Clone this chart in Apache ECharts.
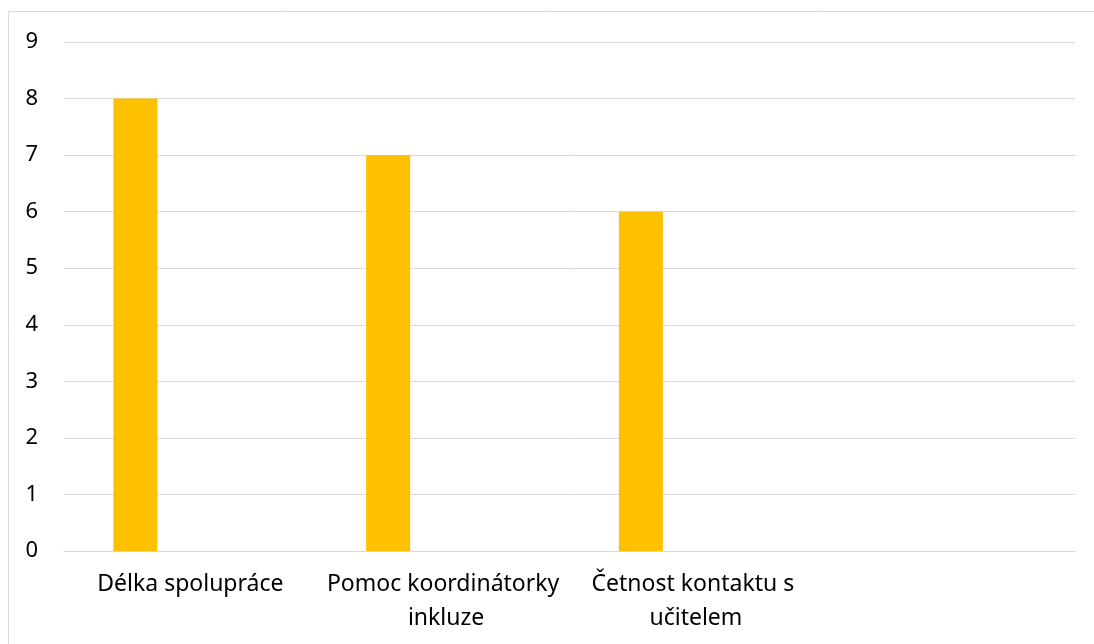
<!DOCTYPE html>
<html>
<head>
<meta charset="utf-8">
<script src="https://cdn.jsdelivr.net/npm/echarts@6/dist/echarts.min.js"></script>
<style>
  html, body { margin: 0; padding: 0; background: #fff; }
  #chart { width: 1094px; height: 644px; }
</style>
</head>
<body>
<div id="chart"></div>
<script>
// Categories along the x axis (the last slot is left empty)
const categories = ['Délka spolupráce', 'Pomoc koordinátorky inkluze', 'Četnost kontaktu s učitelem', ''];
// Counts per category
const counts = [8, 7, 6, null];
// Companion series with no values, keeps the bar offset within each slot
const companion = [null, null, null, null];
// Value axis ticks
const yTicks = [0, 1, 2, 3, 4, 5, 6, 7, 8, 9];

const chart = echarts.init(document.getElementById('chart'));
const font = 'Noto Sans';
chart.setOption({
  animation: false,
  backgroundColor: '#fff',
  graphic: [{
    type: 'rect',
    shape: { x: 8.5, y: 11.5, width: 1200, height: 800 },
    style: { fill: 'none', stroke: '#d9d9d9', lineWidth: 1 },
    silent: true
  }],
  grid: { left: 64, right: 19, top: 42, bottom: 93, containLabel: false },
  xAxis: {
    type: 'category',
    data: categories,
    axisLine: { show: true, lineStyle: { color: '#d9d9d9', width: 1 } },
    axisTick: { show: false },
    axisLabel: {
      interval: 0,
      margin: 16,
      color: '#000',
      fontFamily: font,
      fontSize: 23,
      lineHeight: 34,
      width: 245,
      overflow: 'break'
    }
  },
  yAxis: {
    type: 'value',
    min: yTicks[0],
    max: yTicks[yTicks.length - 1],
    interval: 1,
    axisLine: { show: false },
    axisTick: { show: false },
    splitLine: { lineStyle: { color: '#d9d9d9', width: 1 } },
    axisLabel: { color: '#000', fontFamily: font, fontSize: 22, margin: 26 }
  },
  series: [
    {
      type: 'bar',
      data: counts,
      barWidth: 44,
      barGap: '150%',
      itemStyle: { color: '#FFC000' }
    },
    {
      type: 'bar',
      data: companion,
      barWidth: 44,
      itemStyle: { color: '#5B9BD5' }
    }
  ]
});
</script>
</body>
</html>
